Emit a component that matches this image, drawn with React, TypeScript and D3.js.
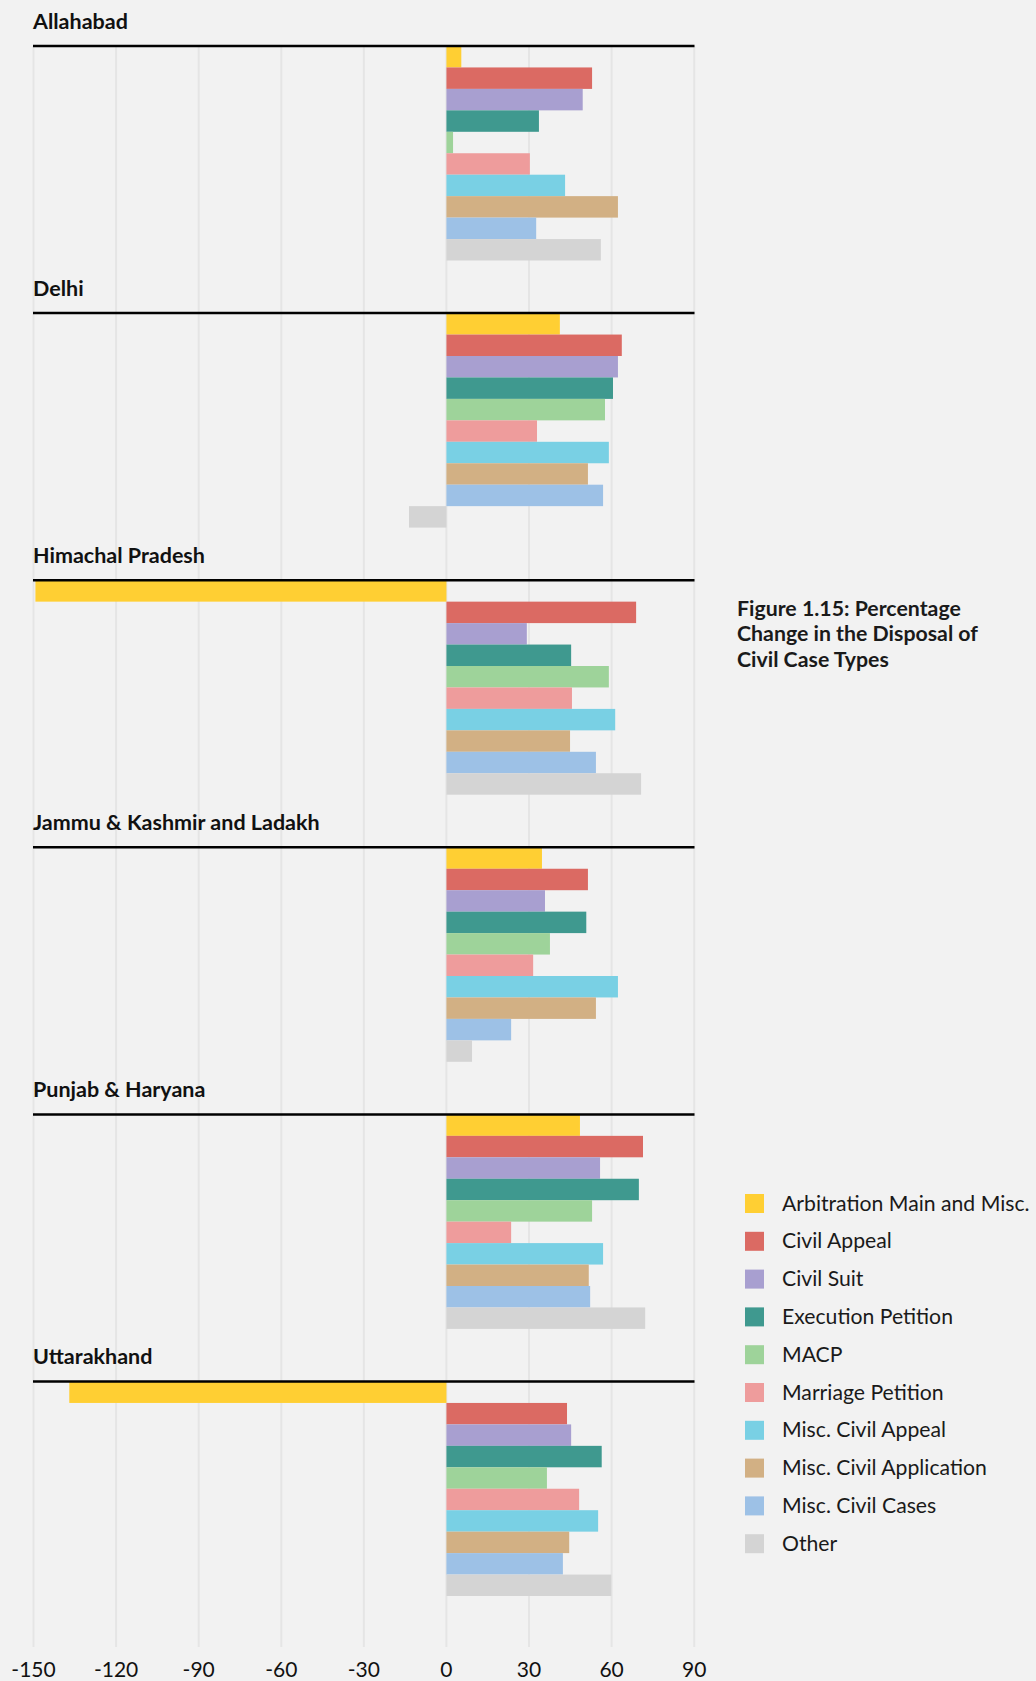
import React from "react";
import * as d3 from "d3";

const courts = ["Allahabad", "Delhi", "Himachal Pradesh", "Jammu & Kashmir and Ladakh", "Punjab & Haryana", "Uttarakhand"];
const caseTypes = [
  "Arbitration Main and Misc.",
  "Civil Appeal",
  "Civil Suit",
  "Execution Petition",
  "MACP",
  "Marriage Petition",
  "Misc. Civil Appeal",
  "Misc. Civil Application",
  "Misc. Civil Cases",
  "Other",
];
const colors = ["#ffcf33", "#db6a63", "#a89fd0", "#3f998f", "#9ed39a", "#ee9c9c", "#79d0e4", "#d2b084", "#9dc1e6", "#d4d4d4"];

const allahabad = [5.4, 52.9, 49.5, 33.6, 2.4, 30.3, 43.1, 62.3, 32.6, 56.1];
const delhi = [41.2, 63.7, 62.3, 60.5, 57.6, 32.9, 59.0, 51.4, 56.9, -13.6];
const himachal = [-149.3, 68.9, 29.2, 45.3, 59.0, 45.6, 61.3, 44.9, 54.3, 70.7];
const jammuKashmir = [34.7, 51.4, 35.8, 50.8, 37.6, 31.5, 62.3, 54.3, 23.5, 9.3];
const punjabHaryana = [48.5, 71.4, 55.8, 69.9, 52.9, 23.5, 56.9, 51.7, 52.2, 72.2];
const uttarakhand = [-137.0, 43.8, 45.3, 56.4, 36.5, 48.2, 55.1, 44.6, 42.3, 59.9];
const seriesByCourt = [allahabad, delhi, himachal, jammuKashmir, punjabHaryana, uttarakhand];

const xTicks = [-150, -120, -90, -60, -30, 0, 30, 60, 90];
const titleLines = ["Figure 1.15: Percentage", "Change in the Disposal of", "Civil Case Types"];

const W = 1036;
const H = 1681;
const FONT = "Lato, 'Noto Sans', sans-serif";

export default function App() {
  const x = d3.scaleLinear().domain([-150, 90]).range([33.5, 694.2]);
  const panelTop = 46;
  const panelStep = 267.1;
  const barsHeight = 214.5;
  const y = d3.scaleBand<string>().domain(caseTypes).range([0, barsHeight]).padding(0);
  const gridBottom = 1647;

  return (
    <div style={{ position: "absolute", left: 0, top: 0, width: W, height: H, background: "#f2f2f2" }}>
      <svg width={W} height={H} style={{ display: "block" }} fontFamily={FONT}>
        <rect x={0} y={0} width={W} height={H} fill="#f2f2f2" />
        {xTicks.map((t) => (
          <line key={"g" + t} x1={x(t)} x2={x(t)} y1={panelTop} y2={gridBottom} stroke="#e5e5e5" strokeWidth={2} />
        ))}
        {courts.map((court, ci) => {
          const top = panelTop + ci * panelStep;
          const vals = seriesByCourt[ci];
          return (
            <g key={court}>
              <text x={33} y={top - 17.5} fontSize={21.5} fontWeight={700} fill="#111">
                {court}
              </text>
              {vals.map((v, i) => (
                <rect
                  key={i}
                  x={x(Math.min(0, v))}
                  y={top + (y(caseTypes[i]) as number)}
                  width={Math.abs(x(v) - x(0))}
                  height={y.bandwidth()}
                  fill={colors[i]}
                />
              ))}
              <line x1={33} x2={694.5} y1={top} y2={top} stroke="#000" strokeWidth={2.5} />
            </g>
          );
        })}
        {xTicks.map((t) => (
          <text key={"t" + t} x={x(t)} y={1676.5} textAnchor="middle" fontSize={21} fill="#111">
            {t}
          </text>
        ))}
        {titleLines.map((l, i) => (
          <text key={l} x={737} y={615.5 + i * 25.5} fontSize={21.3} fontWeight={700} fill="#1a1a1a">
            {l}
          </text>
        ))}
        {caseTypes.map((c, i) => (
          <g key={c} transform={`translate(745, ${1194 + i * 37.8})`}>
            <rect x={0} y={0} width={19} height={19} fill={colors[i]} />
            <text x={37} y={16.5} fontSize={21.2} fill="#1a1a1a">
              {c}
            </text>
          </g>
        ))}
      </svg>
    </div>
  );
}
